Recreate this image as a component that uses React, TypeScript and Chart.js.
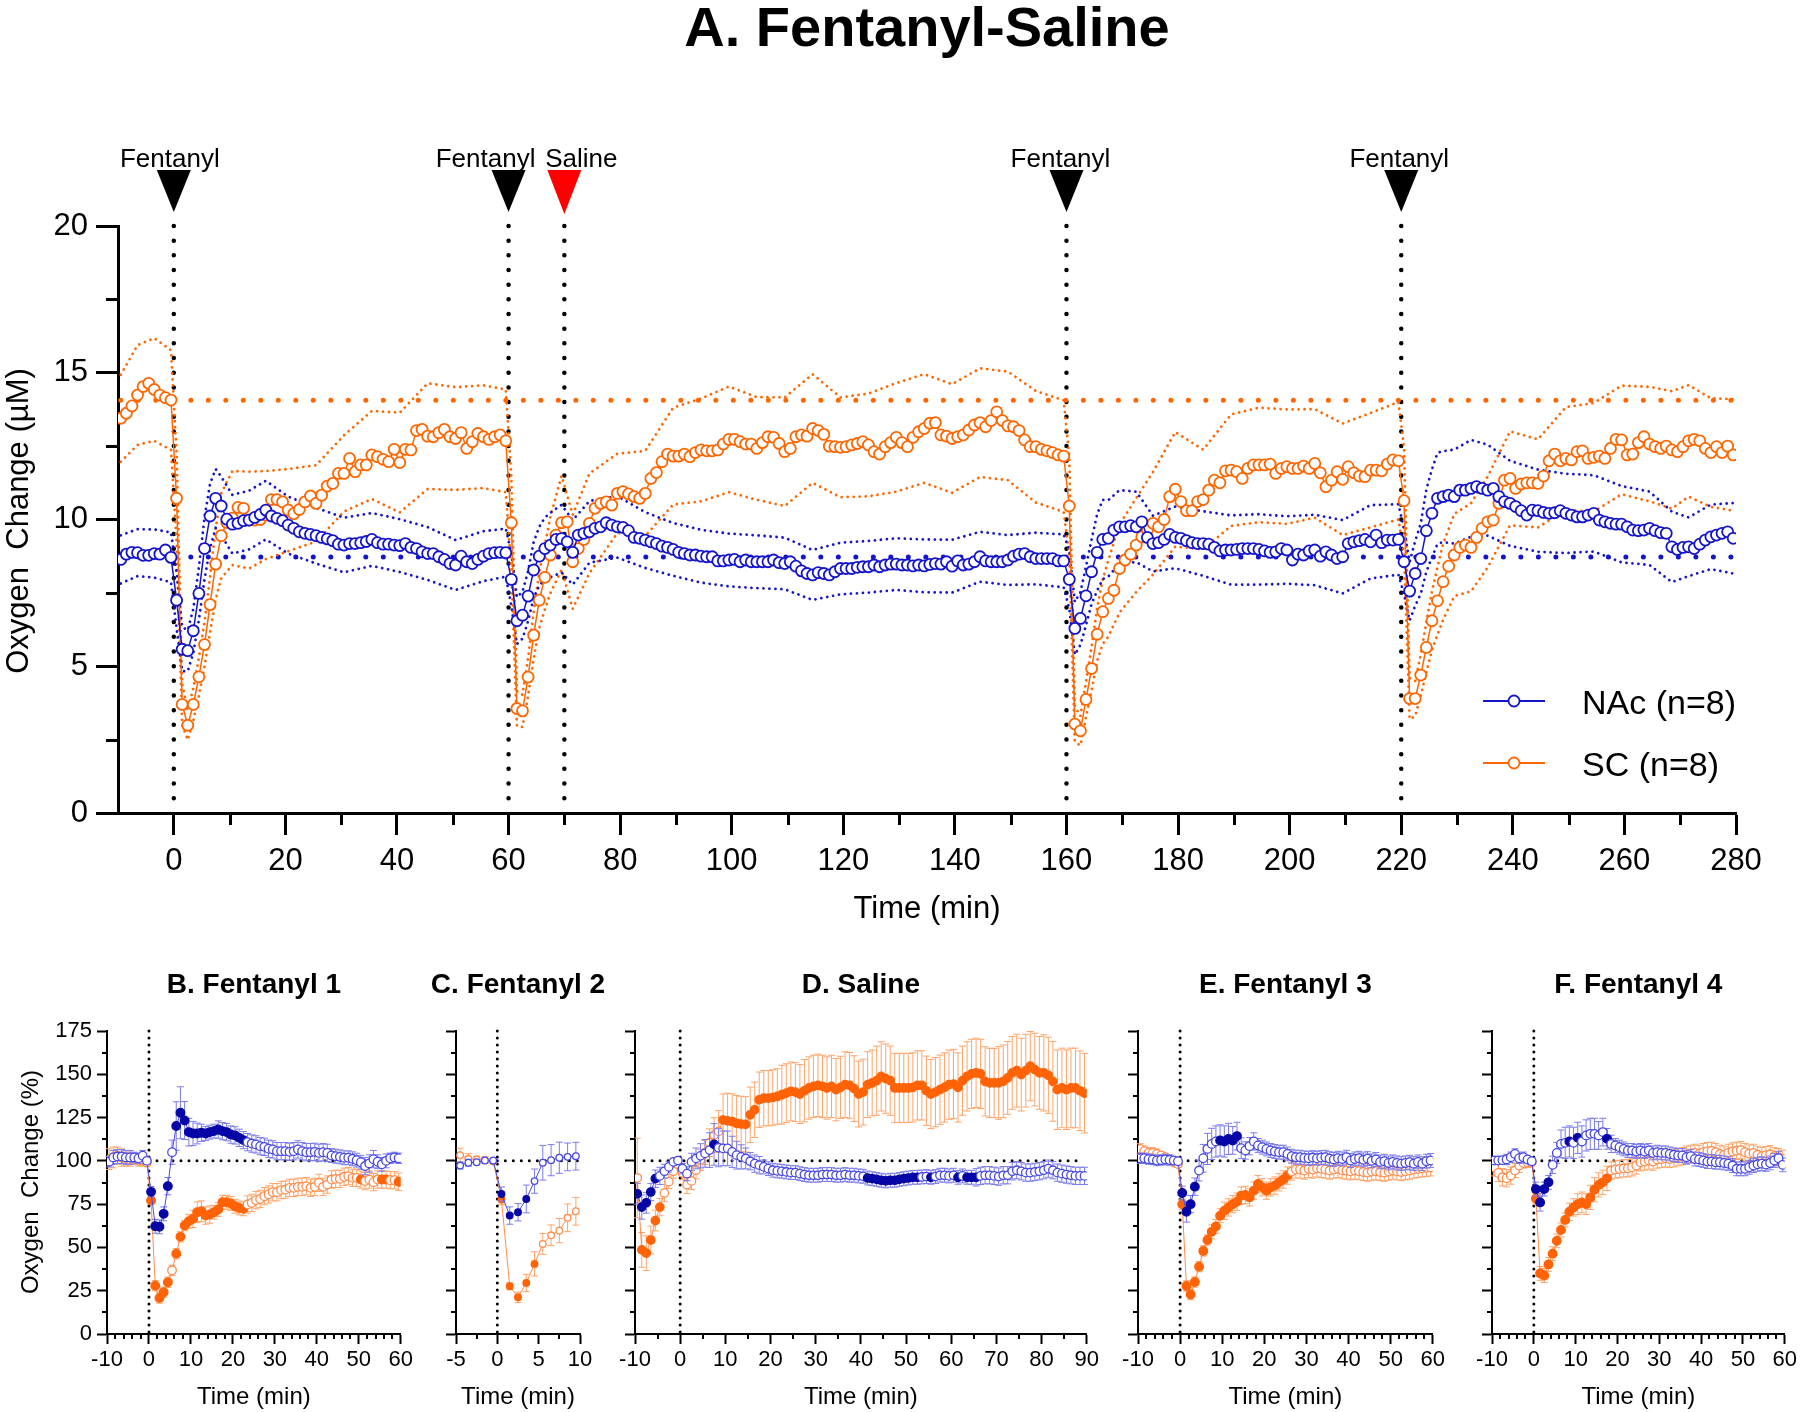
import React, { useEffect, useRef } from "react";
import { Chart, registerables } from "chart.js";

Chart.register(...registerables);

const FONT = "'Liberation Sans', Arial, Helvetica, sans-serif";

/* ================= Panel A : oxygen (µM), 1-min bins ================= */
const mainStartMin = -9.5;
const nacMean = [
  8.64, 8.82, 8.88, 8.87, 8.78, 8.78, 8.84, 8.82, 8.96, 8.71,
  7.25, 5.58, 5.53, 6.21, 7.48, 9.01, 10.12, 10.72, 10.46, 10.01,
  9.84, 9.87, 9.96, 9.98, 10.07, 10.17, 10.32, 10.12, 10.04, 9.96,
  9.81, 9.70, 9.58, 9.53, 9.49, 9.45, 9.39, 9.34, 9.28, 9.16,
  9.13, 9.18, 9.18, 9.21, 9.25, 9.32, 9.21, 9.16, 9.16, 9.13,
  9.11, 9.18, 9.05, 9.01, 8.90, 8.84, 8.84, 8.73, 8.64, 8.50,
  8.45, 8.75, 8.56, 8.50, 8.64, 8.75, 8.84, 8.87, 8.88, 8.87,
  7.96, 6.55, 6.74, 7.39, 8.28, 8.75, 9.01, 9.13, 9.32, 9.35,
  9.24, 8.88, 9.47, 9.53, 9.58, 9.70, 9.75, 9.89, 9.81, 9.75,
  9.73, 9.62, 9.39, 9.36, 9.30, 9.24, 9.18, 9.09, 9.05, 8.98,
  8.88, 8.84, 8.79, 8.79, 8.75, 8.73, 8.73, 8.59, 8.59, 8.62,
  8.64, 8.56, 8.62, 8.56, 8.56, 8.56, 8.56, 8.62, 8.53, 8.50,
  8.56, 8.41, 8.25, 8.16, 8.11, 8.19, 8.16, 8.11, 8.22, 8.33,
  8.33, 8.33, 8.37, 8.39, 8.39, 8.45, 8.39, 8.45, 8.48, 8.48,
  8.45, 8.45, 8.42, 8.45, 8.42, 8.47, 8.50, 8.48, 8.56, 8.41,
  8.59, 8.45, 8.48, 8.56, 8.73, 8.59, 8.56, 8.56, 8.56, 8.62,
  8.75, 8.82, 8.84, 8.73, 8.67, 8.67, 8.67, 8.67, 8.59, 8.59,
  7.96, 6.29, 6.63, 7.40, 8.22, 8.88, 9.32, 9.36, 9.64, 9.75,
  9.75, 9.79, 9.75, 9.92, 9.39, 9.18, 9.21, 9.32, 9.49, 9.39,
  9.36, 9.28, 9.21, 9.18, 9.18, 9.16, 9.05, 8.93, 8.96, 8.96,
  8.98, 9.01, 9.01, 9.01, 8.98, 8.93, 8.88, 8.90, 9.01, 8.96,
  8.62, 8.82, 8.79, 8.93, 8.96, 8.75, 8.90, 8.79, 8.67, 8.73,
  9.18, 9.24, 9.28, 9.32, 9.24, 9.47, 9.21, 9.30, 9.30, 9.32,
  8.56, 7.56, 8.16, 8.67, 9.62, 10.21, 10.72, 10.78, 10.83, 10.78,
  11.00, 11.00, 11.06, 11.12, 11.06, 11.00, 11.06, 10.78, 10.61, 10.55,
  10.44, 10.30, 10.15, 10.32, 10.30, 10.24, 10.21, 10.23, 10.30, 10.21,
  10.15, 10.09, 10.09, 10.15, 10.21, 9.98, 9.92, 9.87, 9.84, 9.84,
  9.75, 9.64, 9.62, 9.64, 9.70, 9.62, 9.55, 9.53, 9.07, 8.98,
  9.05, 9.07, 9.01, 9.16, 9.30, 9.41, 9.47, 9.53, 9.58, 9.36,
];
const scMean = [
  13.45, 13.62, 13.87, 14.24, 14.53, 14.64, 14.43, 14.24, 14.15, 14.07,
  10.72, 3.70, 2.99, 3.70, 4.64, 5.74, 7.10, 8.48, 9.45, 9.90,
  10.05, 10.41, 10.38, 9.98, 9.98, 10.00, 10.15, 10.68, 10.68, 10.60,
  10.32, 10.20, 10.34, 10.60, 10.80, 10.55, 10.83, 11.14, 11.23, 11.57,
  11.57, 12.08, 11.63, 11.86, 11.86, 12.20, 12.14, 12.05, 11.97, 12.39,
  11.94, 12.39, 12.37, 13.03, 13.07, 12.84, 12.82, 12.96, 13.07, 12.82,
  12.76, 12.96, 12.42, 12.65, 12.93, 12.82, 12.73, 12.82, 12.88, 12.68,
  9.89, 3.56, 3.48, 4.63, 6.06, 7.25, 8.03, 8.79, 9.47, 9.89,
  9.92, 8.56, 9.01, 9.32, 9.87, 10.38, 10.55, 10.60, 10.49, 10.89,
  10.95, 10.87, 10.78, 10.72, 10.89, 11.40, 11.60, 11.97, 12.23, 12.16,
  12.16, 12.23, 12.14, 12.28, 12.37, 12.34, 12.34, 12.37, 12.57, 12.73,
  12.73, 12.65, 12.57, 12.57, 12.42, 12.62, 12.82, 12.80, 12.59, 12.31,
  12.42, 12.82, 12.88, 12.84, 13.10, 13.03, 12.90, 12.50, 12.48, 12.46,
  12.48, 12.54, 12.59, 12.65, 12.54, 12.31, 12.23, 12.48, 12.62, 12.80,
  12.62, 12.48, 12.80, 12.99, 13.10, 13.28, 13.30, 12.88, 12.84, 12.76,
  12.82, 12.88, 13.05, 13.22, 13.30, 13.16, 13.37, 13.67, 13.37, 13.19,
  13.16, 13.03, 12.71, 12.48, 12.48, 12.39, 12.34, 12.28, 12.20, 12.16,
  10.46, 3.03, 2.80, 3.87, 4.92, 6.09, 6.86, 7.31, 7.59, 8.33,
  8.62, 8.82, 9.13, 9.41, 9.64, 9.87, 9.75, 10.00, 10.78, 11.03,
  10.61, 10.30, 10.30, 10.61, 10.68, 11.00, 11.34, 11.25, 11.66, 11.68,
  11.63, 11.40, 11.74, 11.86, 11.86, 11.86, 11.89, 11.57, 11.74, 11.80,
  11.74, 11.74, 11.82, 11.74, 11.91, 11.59, 11.12, 11.34, 11.63, 11.37,
  11.80, 11.59, 11.48, 11.46, 11.68, 11.68, 11.66, 11.89, 12.03, 12.00,
  10.64, 3.90, 3.90, 4.70, 5.64, 6.55, 7.23, 7.88, 8.41, 8.79,
  9.05, 9.13, 9.05, 9.39, 9.70, 9.92, 9.98, 10.55, 11.34, 11.40,
  11.06, 11.21, 11.25, 11.25, 11.23, 11.48, 12.00, 12.23, 12.00, 12.08,
  12.03, 12.31, 12.34, 12.08, 12.12, 12.16, 12.08, 12.42, 12.73, 12.71,
  12.20, 12.23, 12.62, 12.82, 12.57, 12.48, 12.42, 12.50, 12.37, 12.31,
  12.48, 12.68, 12.73, 12.68, 12.42, 12.28, 12.48, 12.28, 12.50, 12.20,
];
const semTimes = [
  -9.5, -6.5, -3.5, -0.5,
  0.5, 1.5, 2.5, 3.5, 4.5, 5.5, 6.5, 7.5, 8.5,
  10.5, 13.5, 16.5, 20.5, 25.5, 30.5, 35.5, 40.5, 45.5, 50.5, 55.5, 59.5,
  60.5, 61.5, 62.5, 63.5, 64.5, 65.5, 66.5, 67.5,
  69.5, 71.5, 74.5, 79.5, 84.5, 89.5, 94.5, 99.5, 104.5, 109.5, 114.5, 119.5, 124.5, 129.5, 134.5, 139.5, 144.5, 149.5, 154.5, 159.5,
  160.5, 161.5, 162.5, 163.5, 164.5, 165.5, 166.5, 167.5,
  169.5, 172.5, 175.5, 179.5, 184.5, 189.5, 194.5, 199.5, 204.5, 209.5, 214.5, 219.5,
  220.5, 221.5, 222.5, 223.5, 224.5, 225.5, 226.5, 227.5,
  229.5, 232.5, 235.5, 239.5, 244.5, 249.5, 254.5, 259.5, 264.5, 268.5, 271.5, 275.5, 279.5,
];
const nacSem = [
  0.82, 0.8, 0.82, 0.85,
  0.95, 0.75, 0.7, 0.75, 0.9, 1.05, 1.1, 1.0, 1.0,
  1.0, 1.0, 1.0, 0.97, 0.95, 0.93, 0.9, 0.9, 0.9, 0.85, 0.85, 0.82,
  0.9, 0.8, 0.8, 0.85, 0.95, 1.0, 1.05, 1.1,
  1.15, 1.1, 1.05, 1.05, 0.95, 0.9, 0.9, 0.9, 0.9, 0.88, 0.85, 0.88, 0.88, 0.88, 0.9, 0.9, 0.85, 0.85, 0.88, 0.9,
  1.0, 0.9, 0.9, 1.0, 1.1, 1.3, 1.35, 1.3,
  1.25, 1.2, 0.95, 1.05, 1.1, 1.18, 1.2, 1.15, 1.2, 1.25, 1.25, 1.2,
  1.1, 1.0, 1.1, 1.2, 1.4, 1.5, 1.55, 1.55,
  1.6, 1.65, 1.55, 1.45, 1.4, 1.35, 1.3, 1.3, 1.25, 1.2, 1.0, 1.1, 1.2,
];
const scSem = [
  1.48, 1.7, 1.75, 1.7,
  1.5, 0.7, 0.5, 0.55, 0.65, 0.75, 0.95, 1.2, 1.45,
  1.6, 1.65, 1.5, 1.4, 1.3, 1.3, 1.5, 1.7, 1.8, 1.75, 1.75, 1.75,
  1.6, 0.6, 0.55, 0.65, 0.8, 0.95, 1.1, 1.3,
  1.6, 1.6, 1.7, 1.35, 1.45, 1.65, 1.75, 1.8, 1.75, 1.85, 1.85, 1.7, 1.75, 1.85, 1.85, 1.85, 1.85, 1.85, 1.9, 1.9,
  1.7, 0.6, 0.5, 0.6, 0.75, 0.9, 1.1, 1.3,
  1.5, 1.6, 1.75, 1.95, 1.7, 1.9, 1.95, 1.95, 1.85, 1.9, 1.95, 2.0,
  1.8, 0.7, 0.6, 0.7, 0.85, 1.0, 1.15, 1.3,
  1.4, 1.5, 1.55, 1.6, 1.5, 1.75, 1.85, 1.85, 1.95, 2.0, 1.9, 1.85, 1.9,
];
const nacBaseline = 8.72;
const scBaseline = 14.06;
const eventTimes = [0, 60, 70, 160, 220];
const eventLabels = ["Fentanyl", "Fentanyl", "Saline", "Fentanyl", "Fentanyl"];
const eventIsSaline = [false, false, true, false, false];
const legendLabels = ["NAc (n=8)", "SC (n=8)"];
const mainXMajor = [0, 20, 40, 60, 80, 100, 120, 140, 160, 180, 200, 220, 240, 260, 280];
const mainYMajor = [0, 5, 10, 15, 20];

/* ================= Panels B–F : oxygen change (%) ================= */
const bNac = [
  99.5, 102.0, 102.5, 102.5, 102.0, 102.0, 102.0, 101.5, 103.0, 100.0,
  82.1, 62.2, 61.9, 69.4, 85.4, 105.0, 120.1, 127.8, 123.3, 116.6,
  115.8, 115.8, 116.2, 115.8, 116.6, 117.2, 118.1, 117.2, 116.6, 115.2,
  114.7, 113.3, 112.0, 110.8, 110.0, 109.5, 108.5, 108.1, 107.0, 106.6,
  105.6, 105.6, 105.6, 105.2, 105.6, 106.6, 105.6, 105.0, 105.0, 105.2,
  104.6, 105.0, 104.6, 103.1, 102.7, 102.3, 101.8, 101.8, 101.2, 100.4,
  99.2, 97.0, 98.5, 101.0, 99.5, 98.0, 100.0, 101.5, 102.0, 101.5,
];
const bNacErr = [
  3, 4, 4, 4, 4, 4, 3, 3, 3, 2,
  3, 4, 4, 4, 5, 7, 14, 15, 11, 8,
  7, 6, 5, 4, 4, 4, 5, 5, 5, 5,
  5, 5, 5, 5, 5, 5, 5, 5, 5, 5,
  5, 5, 5, 5, 5, 5, 5, 5, 5, 5,
  5, 5, 5, 4, 4, 4, 4, 4, 4, 4,
  4, 5, 5, 5, 4, 4, 4, 3, 3, 3,
];
const bSc = [
  101.0, 102.0, 103.0, 102.0, 101.0, 101.0, 101.0, 100.0, 100.0, 99.0,
  77.1, 27.9, 20.8, 24.1, 29.9, 36.8, 46.4, 56.1, 62.6, 65.1,
  66.5, 70.3, 70.9, 68.4, 69.0, 70.3, 71.9, 76.1, 76.1, 75.4,
  73.8, 72.8, 72.3, 74.8, 75.7, 77.3, 78.0, 79.6, 80.6, 81.9,
  81.9, 83.1, 83.4, 84.4, 84.4, 85.0, 85.0, 85.4, 84.4, 85.0,
  87.3, 85.0, 86.3, 89.2, 89.6, 89.6, 90.8, 91.2, 90.2, 90.2,
  89.2, 88.3, 89.2, 87.7, 89.2, 89.2, 89.2, 88.8, 88.8, 87.9,
];
const bScErr = [
  6, 6, 5, 5, 4, 4, 3, 3, 3, 2,
  2, 3, 3, 3, 3, 3, 3, 3, 3, 4,
  5, 6, 6, 5, 5, 4, 4, 4, 4, 4,
  4, 4, 4, 5, 5, 5, 5, 5, 5, 5,
  5, 5, 5, 5, 5, 5, 5, 5, 5, 5,
  5, 5, 5, 5, 5, 5, 5, 5, 5, 5,
  5, 5, 5, 5, 5, 5, 5, 5, 5, 5,
];
const bNacSig = [[0.5, 4.5], [6.5, 22.5]];
const bScSig = [[0.5, 4.5], [6.5, 22.5], [50.5, 50.5], [55.5, 56.5], [59.5, 59.5]];

const cNac = [97.3, 98.9, 99.2, 100.2, 100.2, 80.9, 68.4, 70.3, 78.0, 88.3, 98.9, 100.4, 101.8, 102.3, 102.7];
const cNacErr = [2, 2, 1, 1, 1, 4, 5, 5, 8, 7, 10, 9, 9, 8, 8];
const cSc = [103.3, 101.2, 100.8, 100.4, 99.6, 77.7, 27.6, 21.2, 29.5, 40.5, 52.0, 57.0, 59.7, 67.1, 70.9];
const cScErr = [4, 3, 2, 2, 1, 3, 2, 3, 5, 7, 6, 6, 7, 8, 8];
const cNacSig = [[0.5, 3.5]];
const cScSig = [[0.5, 4.5]];

const dNac = [
  81.0, 73.3, 75.8, 82.0, 89.7, 91.3, 94.0, 96.5, 99.4, 100.2,
  95.5, 92.6, 99.4, 101.4, 102.9, 104.3, 106.2, 109.5, 107.6, 107.2,
  107.2, 105.2, 103.3, 102.3, 101.4, 99.8, 98.4, 97.5, 96.5, 95.5,
  94.6, 94.2, 94.0, 93.6, 93.2, 93.2, 92.6, 92.1, 91.7, 91.7,
  91.7, 92.1, 92.1, 92.1, 91.7, 91.7, 92.1, 91.7, 91.7, 91.3,
  91.1, 90.1, 89.7, 89.3, 88.8, 88.4, 88.8, 88.8, 89.3, 89.7,
  90.1, 90.5, 90.5, 90.7, 90.9, 90.5, 90.9, 91.7, 91.7, 91.3,
  91.7, 90.5, 91.3, 90.5, 90.5, 90.5, 91.3, 91.7, 91.7, 91.3,
  90.9, 91.7, 91.7, 94.0, 94.6, 94.0, 93.2, 93.2, 93.6, 94.0,
  94.6, 95.5, 94.6, 93.2, 92.6, 92.1, 91.7, 91.3, 91.3, 91.3,
];
const dNacErr = [
  6, 7, 6, 5, 5, 5, 4, 3, 2, 1,
  3, 4, 5, 6, 7, 8, 10, 12, 11, 10,
  10, 9, 8, 7, 6, 5, 5, 5, 4, 4,
  4, 4, 4, 4, 4, 4, 4, 4, 4, 4,
  4, 4, 4, 4, 4, 4, 4, 4, 4, 4,
  4, 4, 4, 4, 4, 4, 4, 4, 4, 4,
  4, 4, 4, 4, 4, 4, 4, 4, 4, 4,
  4, 4, 4, 4, 4, 5, 5, 5, 5, 5,
  5, 5, 5, 5, 5, 5, 5, 5, 5, 5,
  5, 5, 5, 5, 5, 5, 5, 5, 5, 5,
];
const dSc = [
  90.1, 48.6, 46.7, 54.3, 65.5, 73.3, 81.4, 88.0, 94.0, 98.0,
  93.0, 86.2, 88.4, 94.6, 100.5, 104.8, 110.5, 114.9, 117.0, 123.6,
  123.1, 122.7, 121.7, 121.3, 121.1, 126.6, 129.5, 135.3, 136.2, 136.2,
  136.6, 137.2, 138.2, 139.1, 140.1, 139.7, 138.6, 140.5, 142.1, 143.0,
  143.6, 143.0, 142.1, 143.0, 141.1, 142.4, 144.0, 143.6, 141.7, 138.6,
  139.7, 144.0, 145.0, 146.3, 148.8, 147.5, 146.3, 142.1, 142.1, 142.1,
  142.1, 142.4, 143.6, 143.6, 140.5, 138.6, 139.7, 141.1, 142.4, 144.0,
  144.4, 142.4, 146.3, 148.8, 150.2, 150.8, 150.2, 145.9, 145.0, 145.0,
  145.0, 145.9, 147.9, 150.8, 152.1, 149.8, 152.1, 154.7, 152.7, 150.8,
  150.8, 149.4, 145.9, 141.1, 142.1, 141.1, 142.1, 142.1, 140.5, 139.1,
];
const dScErr = [
  23, 10, 10, 8, 6, 5, 5, 4, 4, 3,
  4, 5, 5, 5, 6, 7, 8, 10, 12, 15,
  16, 16, 16, 16, 16, 16, 16, 16, 16, 16,
  16, 16, 17, 17, 17, 17, 17, 18, 18, 18,
  18, 18, 18, 18, 18, 18, 19, 19, 19, 19,
  19, 19, 19, 20, 20, 20, 20, 20, 20, 20,
  20, 20, 20, 20, 20, 20, 20, 20, 20, 20,
  20, 20, 20, 20, 20, 20, 20, 20, 20, 20,
  21, 21, 21, 21, 21, 21, 21, 20, 21, 21,
  22, 22, 23, 23, 23, 23, 23, 23, 23, 23,
];
const dNacSig = [[-9.5, -5.5], [7.5, 7.5], [41.5, 52.5], [55.5, 55.5], [61.5, 61.5], [63.5, 65.5]];
const dScSig = [[-8.5, -4.5], [9.5, 89.5]];

const eNac = [
  101.5, 101.5, 101.0, 100.8, 100.2, 100.5, 100.8, 100.5, 100.2, 99.8,
  81.4, 70.6, 75.0, 85.1, 94.4, 101.5, 106.9, 109.8, 111.2, 111.8,
  111.2, 112.7, 111.8, 114.3, 107.3, 106.0, 108.5, 111.2, 108.9, 107.9,
  106.9, 106.0, 105.4, 105.0, 105.0, 104.0, 102.7, 102.1, 102.1, 101.7,
  101.5, 101.9, 101.5, 101.9, 102.1, 101.3, 100.8, 101.5, 101.1, 102.1,
  100.2, 101.1, 101.5, 100.6, 101.3, 100.0, 100.8, 99.4, 99.8, 98.8,
  99.4, 98.8, 98.4, 98.8, 99.2, 98.4, 99.4, 98.4, 99.8, 100.2,
];
const eNacErr = [
  3, 3, 3, 3, 3, 3, 3, 3, 2, 2,
  4, 6, 5, 5, 6, 8, 9, 9, 9, 9,
  9, 9, 8, 8, 6, 5, 5, 5, 4, 4,
  4, 4, 4, 4, 4, 4, 4, 4, 4, 4,
  4, 4, 4, 4, 4, 4, 4, 4, 4, 4,
  4, 4, 4, 4, 4, 4, 4, 4, 4, 4,
  4, 4, 4, 4, 4, 4, 4, 4, 4, 4,
];
const eSc = [
  106.9, 105.6, 104.6, 104.6, 104.0, 103.1, 102.1, 100.8, 99.2, 98.2,
  75.0, 27.7, 22.8, 30.0, 38.9, 48.0, 54.3, 59.0, 62.1, 68.3,
  71.2, 73.1, 75.0, 76.4, 79.9, 80.3, 78.9, 82.8, 86.6, 84.7,
  82.8, 84.7, 85.7, 87.6, 89.2, 91.5, 93.8, 95.0, 95.0, 94.4,
  95.4, 95.0, 95.7, 95.4, 95.0, 94.4, 95.0, 95.4, 94.6, 94.4,
  94.0, 94.4, 94.0, 93.6, 93.2, 93.8, 94.0, 93.6, 93.2, 93.8,
  94.4, 94.0, 93.6, 94.0, 94.4, 95.0, 95.4, 95.7, 96.0, 96.3,
];
const eScErr = [
  3, 3, 3, 3, 3, 2, 2, 2, 2, 2,
  3, 3, 3, 3, 3, 3, 3, 4, 4, 4,
  5, 5, 5, 5, 5, 5, 5, 5, 5, 5,
  5, 5, 5, 5, 5, 5, 5, 5, 5, 5,
  5, 5, 5, 5, 5, 5, 5, 5, 5, 5,
  5, 5, 5, 5, 5, 5, 5, 5, 5, 5,
  5, 5, 5, 5, 5, 5, 5, 5, 5, 5,
];
const eNacSig = [[0.5, 3.5], [9.5, 13.5]];
const eScSig = [[0.5, 25.5]];

const fNac = [
  100.2, 100.2, 100.4, 100.8, 102.1, 104.0, 101.5, 102.1, 100.8, 99.8,
  83.7, 76.0, 83.7, 87.6, 97.7, 104.6, 109.8, 110.4, 111.2, 110.4,
  113.3, 111.2, 114.7, 115.6, 115.6, 114.7, 116.6, 112.7, 109.8, 108.9,
  107.9, 106.9, 106.0, 106.0, 105.4, 106.0, 105.4, 106.0, 104.6, 105.0,
  104.6, 104.6, 104.0, 103.5, 103.1, 103.1, 102.1, 102.7, 101.1, 100.8,
  100.2, 99.6, 99.6, 99.2, 99.2, 98.8, 98.4, 97.3, 95.4, 95.4,
  95.4, 96.3, 97.3, 98.0, 98.4, 97.9, 98.8, 100.2, 101.5, 97.7,
];
const fNacErr = [
  2, 2, 2, 3, 3, 3, 3, 3, 2, 2,
  4, 5, 4, 4, 5, 6, 8, 9, 9, 9,
  9, 9, 9, 9, 9, 8, 8, 6, 5, 4,
  4, 4, 4, 4, 4, 4, 4, 4, 4, 4,
  4, 4, 4, 4, 4, 4, 4, 4, 4, 4,
  4, 4, 4, 4, 4, 4, 4, 4, 4, 4,
  4, 4, 4, 4, 4, 4, 4, 4, 4, 4,
];
const fSc = [
  96.3, 93.0, 90.5, 90.0, 91.5, 94.4, 97.3, 98.8, 99.2, 99.2,
  78.3, 35.0, 33.8, 40.2, 46.4, 53.8, 60.1, 65.9, 70.6, 73.1,
  75.0, 76.0, 75.0, 78.9, 83.3, 86.1, 87.6, 89.9, 94.4, 95.0,
  95.3, 95.7, 95.7, 96.3, 97.3, 99.2, 99.6, 100.2, 99.6, 100.8,
  101.1, 101.5, 101.1, 101.5, 102.1, 102.7, 103.5, 104.0, 104.6, 104.0,
  105.0, 105.6, 105.8, 105.0, 104.0, 103.5, 104.6, 105.4, 105.8, 106.2,
  105.0, 104.2, 104.6, 103.5, 102.7, 103.3, 103.8, 102.7, 102.1, 101.1,
];
const fScErr = [
  5, 5, 5, 5, 5, 4, 4, 3, 3, 2,
  3, 4, 4, 4, 4, 4, 4, 4, 5, 5,
  6, 6, 6, 7, 7, 7, 7, 7, 5, 5,
  5, 5, 5, 5, 5, 5, 5, 5, 5, 5,
  5, 5, 5, 5, 5, 5, 5, 5, 5, 5,
  5, 5, 5, 5, 5, 5, 5, 5, 5, 5,
  5, 5, 5, 5, 5, 5, 5, 5, 5, 5,
];
const fNacSig = [[0.5, 3.5], [8.5, 8.5], [10.5, 10.5], [17.5, 17.5]];
const fScSig = [[0.5, 17.5]];

const bottomYMajor = [0, 25, 50, 75, 100, 125, 150, 175];
const xMajor70 = [-10, 0, 10, 20, 30, 40, 50, 60];
const xMajorC = [-5, 0, 5, 10];
const xMajorD = [-10, 0, 10, 20, 30, 40, 50, 60, 70, 80, 90];

/* ================= styling ================= */
const MAIN_BLUE = "#1414CC";
const MAIN_ORANGE = "#FF6600";
const BL_SOLID = "#0606A6";
const BL_OPEN = "#4848E4";
const BL_ERR = "#7C7CEE";
const OR_SOLID = "#FF6306";
const OR_OPEN = "#FF8C4C";
const OR_ERR = "#FFA468";

function minorBetween(a: number, b: number, step: number, majors: number[]) {
  const out: number[] = [];
  for (let v = a; v <= b + 1e-9; v += step) {
    const r = Math.round(v * 100) / 100;
    if (!majors.some((m) => Math.abs(m - r) < 1e-6)) out.push(r);
  }
  return out;
}

function series(start: number, vals: number[]) {
  return vals.map((v, i) => ({ x: start + i, y: v }));
}

function isSig(t: number, ranges: number[][]) {
  return ranges.some(([a, b]) => t >= a - 1e-6 && t <= b + 1e-6);
}

/* ---------- error bar plugin (uses the chart's own y scale) ---------- */
const errorBarPlugin = {
  id: "errorBars",
  beforeDatasetDraw(chart: any, args: any) {
    const ds = chart.data.datasets[args.index];
    if (!ds.errors) return;
    const ctx = chart.ctx;
    const y = chart.scales.y;
    const cap = ds.capHalf || 3.5;
    ctx.save();
    ctx.strokeStyle = ds.errColor;
    ctx.lineWidth = 1;
    ctx.beginPath();
    args.meta.data.forEach((pt: any, i: number) => {
      const e = ds.errors[i];
      const v = ds.data[i].y;
      if (!e) return;
      const x = pt.x;
      const yt = y.getPixelForValue(v + e);
      const yb = y.getPixelForValue(v - e);
      ctx.moveTo(x, yt);
      ctx.lineTo(x, yb);
      ctx.moveTo(x - cap, yt);
      ctx.lineTo(x + cap, yt);
      ctx.moveTo(x - cap, yb);
      ctx.lineTo(x + cap, yb);
    });
    ctx.stroke();
    ctx.restore();
  },
};

/* ================= main chart ================= */
const MAIN_W = 1800;
const MAIN_H = 960;
const mainXMinor = minorBetween(10, 270, 20, []);
const mainYMinor = [2.5, 7.5, 12.5, 17.5];
const labelNudge = [-4, -23, 17, -6, -2];

const mainDecor = {
  id: "mainDecor",
  afterDraw(chart: any) {
    const { ctx, chartArea: a } = chart;
    const x = chart.scales.x;
    const y = chart.scales.y;
    ctx.save();
    // minor ticks
    ctx.strokeStyle = "#000";
    ctx.lineWidth = 3;
    ctx.beginPath();
    mainXMinor.forEach((v) => {
      const px = Math.round(x.getPixelForValue(v)) + 0.5;
      ctx.moveTo(px, a.bottom);
      ctx.lineTo(px, a.bottom + 12);
    });
    mainYMinor.forEach((v) => {
      const py = Math.round(y.getPixelForValue(v)) + 0.5;
      ctx.moveTo(a.left - 12, py);
      ctx.lineTo(a.left, py);
    });
    ctx.stroke();

    ctx.fillStyle = "#000";
    ctx.textAlign = "center";
    ctx.textBaseline = "alphabetic";
    // title
    ctx.font = `bold 56px ${FONT}`;
    ctx.fillText("A. Fentanyl-Saline", (a.left + a.right) / 2, 46);
    // axis titles
    ctx.font = `31px ${FONT}`;
    ctx.fillText("Time (min)", (a.left + a.right) / 2, 918);
    ctx.save();
    ctx.translate(28, 521);
    ctx.rotate(-Math.PI / 2);
    ctx.font = `31px ${FONT}`;
    ctx.fillText("Oxygen  Change (\u00B5M)", 0, 0);
    ctx.restore();

    // event markers
    eventTimes.forEach((t, i) => {
      const px = x.getPixelForValue(t);
      ctx.fillStyle = eventIsSaline[i] ? "#FF0000" : "#000";
      ctx.beginPath();
      ctx.moveTo(px - 17, 170);
      ctx.lineTo(px + 17, 170);
      ctx.lineTo(px, eventIsSaline[i] ? 214 : 212);
      ctx.closePath();
      ctx.fill();
      ctx.fillStyle = "#000";
      ctx.font = `26px ${FONT}`;
      ctx.fillText(eventLabels[i], px + labelNudge[i], 167);
    });

    // legend
    const items = [
      { label: legendLabels[0], color: MAIN_BLUE, y: 701 },
      { label: legendLabels[1], color: MAIN_ORANGE, y: 763 },
    ];
    items.forEach((it) => {
      ctx.strokeStyle = it.color;
      ctx.lineWidth = 2;
      ctx.beginPath();
      ctx.moveTo(1483, it.y);
      ctx.lineTo(1545, it.y);
      ctx.stroke();
      ctx.beginPath();
      ctx.arc(1514, it.y, 5.5, 0, Math.PI * 2);
      ctx.fillStyle = "#fff";
      ctx.fill();
      ctx.lineWidth = 1.8;
      ctx.stroke();
      ctx.fillStyle = "#000";
      ctx.textAlign = "left";
      ctx.font = `34px ${FONT}`;
      ctx.fillText(it.label, 1582, it.y + 12.5);
      ctx.textAlign = "center";
    });
    ctx.restore();
  },
};

function buildMain() {
  const lastT = mainStartMin + nacMean.length - 1;
  const meanDs = (vals: number[], color: string) => ({
    data: series(mainStartMin, vals),
    borderColor: color,
    borderWidth: 1.5,
    pointRadius: 5.5,
    pointBorderWidth: 1.8,
    pointBackgroundColor: "#fff",
    pointBorderColor: color,
    fill: false,
  });
  const bandDs = (mean: number[], sem: number[], sign: number, color: string) => ({
    data: semTimes.map((t, k) => ({ x: t, y: mean[Math.round(t - mainStartMin)] + sign * sem[k] })),
    borderColor: color,
    borderWidth: 2.8,
    borderDash: [0.001, 6],
    borderCapStyle: "round",
    pointRadius: 0,
    fill: false,
  });
  const baseDs = (v: number, color: string) => ({
    data: [{ x: mainStartMin, y: v }, { x: lastT, y: v }],
    borderColor: color,
    borderWidth: 5,
    borderDash: [0.001, 17.5],
    borderCapStyle: "round",
    pointRadius: 0,
    fill: false,
    clip: false,
  });
  const vDs = eventTimes.map((t) => ({
    data: [{ x: t, y: 20 }, { x: t, y: 0.45 }],
    borderColor: "#000",
    borderWidth: 4.5,
    borderDash: [0.001, 14.67],
    borderCapStyle: "round",
    pointRadius: 0,
    fill: false,
    clip: false,
  }));
  return {
    type: "line",
    data: {
      datasets: [
        meanDs(nacMean, MAIN_BLUE),
        meanDs(scMean, MAIN_ORANGE),
        bandDs(nacMean, nacSem, 1, MAIN_BLUE),
        bandDs(nacMean, nacSem, -1, MAIN_BLUE),
        bandDs(scMean, scSem, 1, MAIN_ORANGE),
        bandDs(scMean, scSem, -1, MAIN_ORANGE),
        baseDs(nacBaseline, MAIN_BLUE),
        baseDs(scBaseline, MAIN_ORANGE),
        ...vDs,
      ],
    },
    options: {
      responsive: false,
      animation: false,
      events: [],
      layout: { padding: { left: 0, right: 64, top: 226, bottom: 0 } },
      plugins: { legend: { display: false }, tooltip: { enabled: false }, title: { display: false } },
      elements: { line: { tension: 0 } },
      scales: {
        x: {
          type: "linear",
          min: -10,
          max: 280,
          afterBuildTicks: (s: any) => { s.ticks = mainXMajor.map((v) => ({ value: v })); },
          afterFit: (s: any) => { s.height = MAIN_H - 813; },
          ticks: { font: { family: FONT, size: 31 }, color: "#000", padding: 8, maxRotation: 0, autoSkip: false, callback: (v: any) => String(v) },
          grid: { display: true, drawOnChartArea: false, drawTicks: true, tickLength: 22, tickWidth: 3, tickColor: "#000" },
          border: { display: true, color: "#000", width: 3 },
        },
        y: {
          type: "linear",
          min: 0,
          max: 20,
          afterBuildTicks: (s: any) => { s.ticks = mainYMajor.map((v) => ({ value: v })); },
          afterFit: (s: any) => { s.width = 118; },
          ticks: { font: { family: FONT, size: 31 }, color: "#000", padding: 8, autoSkip: false, callback: (v: any) => String(v) },
          grid: { display: true, drawOnChartArea: false, drawTicks: true, tickLength: 22, tickWidth: 3, tickColor: "#000" },
          border: { display: true, color: "#000", width: 3 },
        },
      },
    },
    plugins: [mainDecor],
  };
}

/* ================= bottom panels ================= */
const PANEL_TOP = 960;
const PANEL_H = 452;
const AXIS_W = 107;

const panels = [
  { key: "B", title: "B. Fentanyl 1", L: 107, R: 402, padR: 14, xMin: -10, xMax: 60, xMajor: xMajor70, xMinor: minorBetween(-10, 60, 2, xMajor70), start: -9.5,
    nac: bNac, nacErr: bNacErr, nacSig: bNacSig, sc: bSc, scErr: bScErr, scSig: bScSig, refFrom: 0, refTo: 60, showY: true, r: 4.3 },
  { key: "C", title: "C. Fentanyl 2", L: 456, R: 580, padR: 70, xMin: -5, xMax: 10, xMajor: xMajorC, xMinor: minorBetween(-5, 10, 2.5, xMajorC), start: -4.5,
    nac: cNac, nacErr: cNacErr, nacSig: cNacSig, sc: cSc, scErr: cScErr, scSig: cScSig, refFrom: 0, refTo: 10, showY: false, r: 3.3 },
  { key: "D", title: "D. Saline", L: 635, R: 1088, padR: 14, xMin: -10, xMax: 90, xMajor: xMajorD, xMinor: minorBetween(-10, 90, 5, xMajorD), start: -9.5,
    nac: dNac, nacErr: dNacErr, nacSig: dNacSig, sc: dSc, scErr: dScErr, scSig: dScSig, refFrom: -8, refTo: 88, showY: false, r: 4.2 },
  { key: "E", title: "E. Fentanyl 3", L: 1138, R: 1434, padR: 14, xMin: -10, xMax: 60, xMajor: xMajor70, xMinor: minorBetween(-10, 60, 2, xMajor70), start: -9.5,
    nac: eNac, nacErr: eNacErr, nacSig: eNacSig, sc: eSc, scErr: eScErr, scSig: eScSig, refFrom: 0, refTo: 60, showY: false, r: 4.3 },
  { key: "F", title: "F. Fentanyl 4", L: 1492, R: 1786, padR: 14, xMin: -10, xMax: 60, xMajor: xMajor70, xMinor: minorBetween(-10, 60, 2, xMajor70), start: -9.5,
    nac: fNac, nacErr: fNacErr, nacSig: fNacSig, sc: fSc, scErr: fScErr, scSig: fScSig, refFrom: 0, refTo: 60, showY: false, r: 4.3 },
];
const bottomYMinor = minorBetween(0, 175, 12.5, bottomYMajor);

function panelDecor(p: any) {
  return {
    id: "panelDecor",
    afterDraw(chart: any) {
      const { ctx, chartArea: a } = chart;
      const x = chart.scales.x;
      const y = chart.scales.y;
      const canvasLeft = p.L - AXIS_W;
      ctx.save();
      ctx.strokeStyle = "#000";
      ctx.lineWidth = 2;
      ctx.beginPath();
      p.xMinor.forEach((v: number) => {
        const px = Math.round(x.getPixelForValue(v));
        ctx.moveTo(px, a.bottom);
        ctx.lineTo(px, a.bottom + 5);
      });
      bottomYMinor.forEach((v) => {
        const py = Math.round(y.getPixelForValue(v));
        ctx.moveTo(a.left - 5, py);
        ctx.lineTo(a.left, py);
      });
      ctx.stroke();
      ctx.fillStyle = "#000";
      ctx.textAlign = "center";
      ctx.textBaseline = "alphabetic";
      ctx.font = `bold 28px ${FONT}`;
      ctx.fillText(p.title, (a.left + a.right) / 2, 993 - PANEL_TOP);
      ctx.font = `24px ${FONT}`;
      ctx.fillText("Time (min)", (a.left + a.right) / 2, 1404 - PANEL_TOP);
      if (p.showY) {
        ctx.translate(38 - canvasLeft, 1182 - PANEL_TOP);
        ctx.rotate(-Math.PI / 2);
        ctx.fillText("Oxygen  Change (%)", 0, 0);
      }
      ctx.restore();
    },
  };
}

function buildPanel(p: any) {
  const mk = (vals: number[], errs: number[], sig: number[][], solid: string, open: string, err: string) => {
    const pts = series(p.start, vals);
    const flags = pts.map((pt) => isSig(pt.x, sig));
    return {
      data: pts,
      borderColor: open,
      borderWidth: 1,
      pointRadius: p.r,
      pointBorderWidth: 1.3,
      pointBackgroundColor: flags.map((f) => (f ? solid : "#fff")),
      pointBorderColor: flags.map((f) => (f ? solid : open)),
      fill: false,
      errors: errs,
      errColor: err,
      capHalf: 3.5,
    };
  };
  const refH = {
    data: [{ x: p.refFrom, y: 100 }, { x: p.refTo, y: 100 }],
    borderColor: "#000",
    borderWidth: 3,
    borderDash: [0.001, 8],
    borderCapStyle: "round",
    pointRadius: 0,
    fill: false,
    clip: false,
  };
  const refV = {
    data: [{ x: 0, y: 175 }, { x: 0, y: 0 }],
    borderColor: "#000",
    borderWidth: 3,
    borderDash: [0.001, 7],
    borderCapStyle: "round",
    pointRadius: 0,
    fill: false,
    clip: false,
  };
  return {
    type: "line",
    data: {
      datasets: [
        mk(p.nac, p.nacErr, p.nacSig, BL_SOLID, BL_OPEN, BL_ERR),
        mk(p.sc, p.scErr, p.scSig, OR_SOLID, OR_OPEN, OR_ERR),
        refH,
        refV,
      ],
    },
    options: {
      responsive: false,
      animation: false,
      events: [],
      layout: { padding: { left: 0, right: p.padR, top: 1031 - PANEL_TOP, bottom: 0 } },
      plugins: { legend: { display: false }, tooltip: { enabled: false }, title: { display: false } },
      elements: { line: { tension: 0 } },
      scales: {
        x: {
          type: "linear",
          min: p.xMin,
          max: p.xMax,
          afterBuildTicks: (s: any) => { s.ticks = p.xMajor.map((v: number) => ({ value: v })); },
          afterFit: (s: any) => { s.height = PANEL_TOP + PANEL_H - 1334; },
          ticks: { font: { family: FONT, size: 22 }, color: "#000", padding: 3, maxRotation: 0, autoSkip: false, callback: (v: any) => String(v) },
          grid: { display: true, drawOnChartArea: false, drawTicks: true, tickLength: 10, tickWidth: 2, tickColor: "#000" },
          border: { display: true, color: "#000", width: 2 },
        },
        y: {
          type: "linear",
          min: 0,
          max: 175,
          afterBuildTicks: (s: any) => { s.ticks = bottomYMajor.map((v) => ({ value: v })); },
          afterFit: (s: any) => { s.width = AXIS_W; },
          ticks: { display: p.showY, font: { family: FONT, size: 22 }, color: "#000", padding: 5, autoSkip: false, callback: (v: any) => String(v) },
          grid: { display: true, drawOnChartArea: false, drawTicks: true, tickLength: 10, tickWidth: 2, tickColor: "#000" },
          border: { display: true, color: "#000", width: 2 },
        },
      },
    },
    plugins: [errorBarPlugin, panelDecor(p)],
  };
}

function ChartCanvas(props: { left: number; top: number; width: number; height: number; build: () => any }) {
  const ref = useRef<HTMLCanvasElement | null>(null);
  useEffect(() => {
    if (!ref.current) return;
    const chart = new Chart(ref.current, props.build());
    return () => chart.destroy();
  }, []);
  return (
    <canvas
      ref={ref}
      width={props.width}
      height={props.height}
      style={{ position: "absolute", left: props.left, top: props.top, width: props.width, height: props.height }}
    />
  );
}

export default function App() {
  return (
    <div style={{ position: "absolute", left: 0, top: 0, width: 1800, height: 1412, background: "#fff", overflow: "hidden" }}>
      <ChartCanvas left={0} top={0} width={MAIN_W} height={MAIN_H} build={buildMain} />
      {panels.map((p) => (
        <ChartCanvas
          key={p.key}
          left={p.L - AXIS_W}
          top={PANEL_TOP}
          width={p.R - p.L + AXIS_W + p.padR}
          height={PANEL_H}
          build={() => buildPanel(p)}
        />
      ))}
    </div>
  );
}
